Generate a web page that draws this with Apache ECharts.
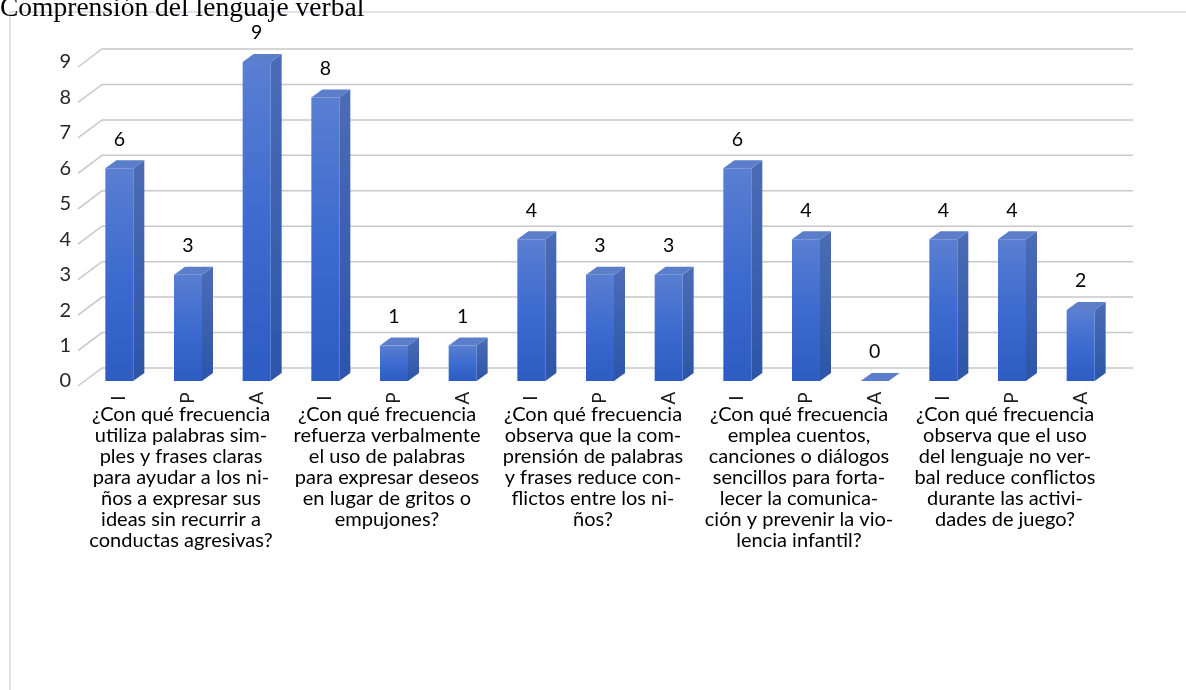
<!DOCTYPE html>
<html><head><meta charset="utf-8">
<script src="https://cdn.jsdelivr.net/npm/echarts@6/dist/echarts.min.js"></script>
<style>html,body{margin:0;padding:0;background:#fff}#c{width:1186px;height:690px}</style>
</head><body><div id="c"></div>
<script>
const chartTitle = 'Comprensión del lenguaje verbal';
const barLabels = ['I','P','A','I','P','A','I','P','A','I','P','A','I','P','A'];
const values = [6,3,9,8,1,1,4,3,3,6,4,0,4,4,2];
const questions = [
  '¿Con qué frecuencia\nutiliza palabras sim-\nples y frases claras\npara ayudar a los ni-\nños a expresar sus\nideas sin recurrir a\nconductas agresivas?',
  '¿Con qué frecuencia\nrefuerza verbalmente\nel uso de palabras\npara expresar deseos\nen lugar de gritos o\nempujones?',
  '¿Con qué frecuencia\nobserva que la com-\nprensión de palabras\ny frases reduce con-\nflictos entre los ni-\nños?',
  '¿Con qué frecuencia\nemplea cuentos,\ncanciones o diálogos\nsencillos para forta-\nlecer la comunica-\nción y prevenir la vio-\nlencia infantil?',
  '¿Con qué frecuencia\nobserva que el uso\ndel lenguaje no ver-\nbal reduce conflictos\ndurante las activi-\ndades de juego?'
];
const yTicks = [0,1,2,3,4,5,6,7,8,9];

const FONT = 'Lato, "Open Sans", sans-serif';
const chart = echarts.init(document.getElementById('c'));

const barData = values.map((v, i) => [i, v]);
const gridData = yTicks.map(t => [0, t]);

chart.setOption({
  animation: false,
  graphic: [
    { type: 'rect', shape: { x: 10, y: 12, width: 1400, height: 900 },
      style: { fill: 'none', stroke: '#dde3ec', lineWidth: 2 }, silent: true, z: -10 },
    { type: 'text', left: 0, top: -5,
      style: { text: chartTitle, font: '27.5px "Liberation Serif", serif', fill: '#000' } }
  ],
  grid: { left: 85, right: 71, top: 62, bottom: 309, outerBoundsMode: 'none' },
  xAxis: [
    { type: 'category', data: barLabels, position: 'bottom', offset: 0,
      axisLine: { show: false }, axisTick: { show: false }, splitLine: { show: false },
      axisLabel: { interval: 0, rotate: 90, align: 'center', verticalAlign: 'middle',
        margin: 17, fontSize: 19, color: '#1a1a1a', fontFamily: FONT } },
    { type: 'category', data: questions, position: 'bottom', offset: 0,
      axisLine: { show: false }, axisTick: { show: false }, splitLine: { show: false },
      axisLabel: { interval: 0, margin: 23, verticalAlign: 'top', align: 'center',
        fontSize: 20, lineHeight: 21, color: '#000', fontFamily: FONT, padding: [0, 14, 0, 0] } }
  ],
  yAxis: {
    type: 'value', min: 0, max: 9, interval: 1,
    axisLine: { show: false }, axisTick: { show: false }, splitLine: { show: false },
    axisLabel: { margin: 14, fontSize: 20, color: '#262626', fontFamily: FONT, padding: [16, 0, 0, 0] }
  },
  series: [
    {
      type: 'custom', xAxisIndex: 0, yAxisIndex: 0, data: gridData, z: 1, silent: true,
      encode: { x: 0, y: 1 },
      renderItem: function (params, api) {
        const p = api.coord([0, api.value(1)]);
        const cs = params.coordSys;
        return {
          type: 'polyline',
          shape: { points: [[cs.x - 7, p[1] + 5], [cs.x + 17, p[1] - 13], [cs.x + cs.width + 18, p[1] - 13]] },
          style: { stroke: '#c8c8c8', lineWidth: 1.5, fill: 'none' }
        };
      }
    },
    {
      type: 'custom', xAxisIndex: 0, yAxisIndex: 0, data: barData, z: 2,
      encode: { x: 0, y: 1 },
      renderItem: function (params, api) {
        const idx = api.value(0), v = api.value(1);
        const top = api.coord([idx, v]);
        const base = api.coord([idx, 0]);
        const cx = top[0], w = 28, dx = 11, dy = 8;
        const l = cx - w / 2, r = cx + w / 2, yt = top[1], yb = base[1];
        const children = [];
        if (v > 0) {
          children.push({
            type: 'rect', shape: { x: l, y: yt, width: w, height: yb - yt },
            style: { fill: new echarts.graphic.LinearGradient(0, 0, 0, 1, [
              { offset: 0, color: '#5a7fd2' }, { offset: 0.5, color: '#3d6bcf' }, { offset: 1, color: '#2d5cc2' }]) }
          });
          children.push({
            type: 'polygon', shape: { points: [[r, yt], [r + dx, yt - dy], [r + dx, yb - dy], [r, yb]] },
            style: { fill: new echarts.graphic.LinearGradient(0, 0, 0, 1, [
              { offset: 0, color: '#4c6cb6' }, { offset: 1, color: '#2c55a8' }]) }
          });
        }
        children.push({
          type: 'polygon', shape: { points: [[l, yt], [l + dx, yt - dy], [r + dx, yt - dy], [r, yt]] },
          style: { fill: '#5b7ecb' }
        });
        children.push({
          type: 'text', x: cx, y: yt - 29,
          style: { text: String(v), align: 'center', verticalAlign: 'middle',
            font: '19.5px ' + FONT, fill: '#000' }
        });
        return { type: 'group', children: children };
      }
    }
  ]
});
</script>
</body></html>
